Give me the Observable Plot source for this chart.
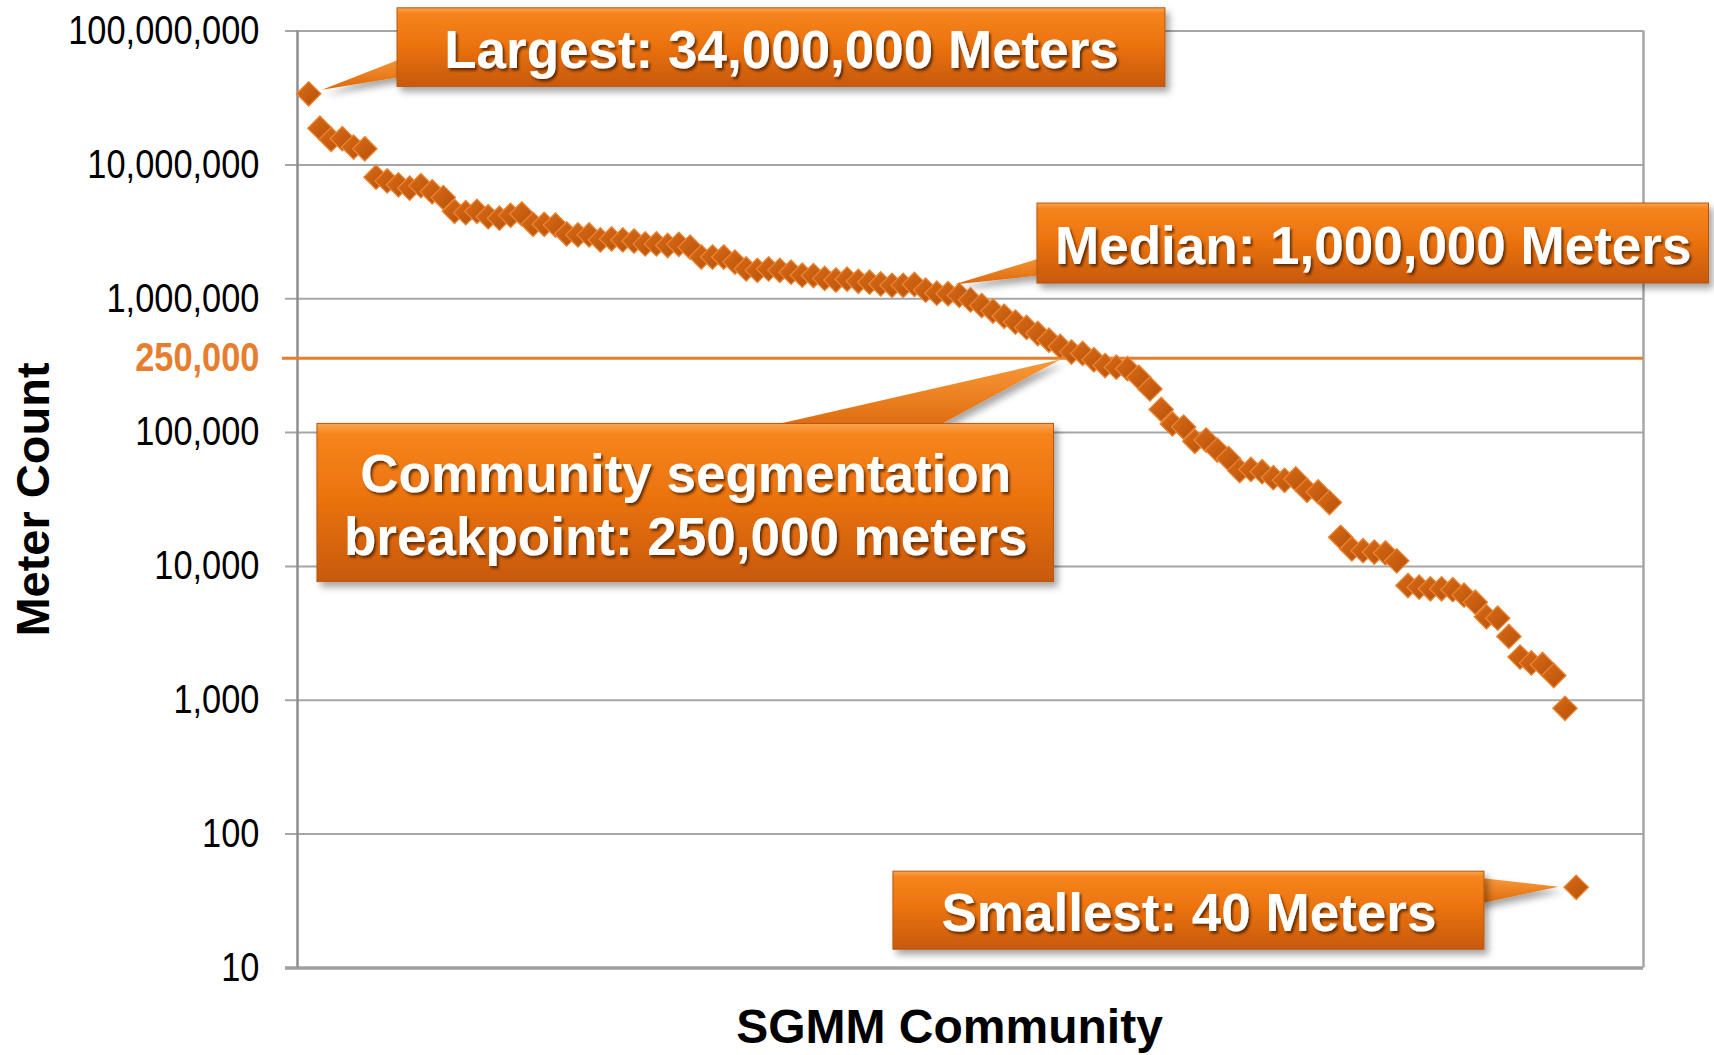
<!DOCTYPE html>
<html>
<head>
<meta charset="utf-8">
<script src="https://cdn.jsdelivr.net/npm/d3@7"></script>
<script src="https://cdn.jsdelivr.net/npm/@observablehq/plot@0.6"></script>
<style>
  html, body { margin: 0; padding: 0; background: #fff; }
  #chart svg { display: block; }
  #defs { position: absolute; width: 0; height: 0; }
</style>
</head>
<body>
<svg id="defs" aria-hidden="true">
  <defs>
    <linearGradient id="dotGrad" x1="0" y1="0" x2="1" y2="1">
      <stop offset="0" stop-color="#db6c14"/>
      <stop offset="1" stop-color="#b3500b"/>
    </linearGradient>
    <linearGradient id="boxGrad" x1="0" y1="0" x2="0" y2="1">
      <stop offset="0" stop-color="#fca552"/>
      <stop offset="0.07" stop-color="#f6841c"/>
      <stop offset="0.45" stop-color="#ec7410"/>
      <stop offset="1" stop-color="#c8590a"/>
    </linearGradient>
    <linearGradient id="wedgeGrad" x1="0" y1="0" x2="0" y2="1">
      <stop offset="0" stop-color="#f99a38"/>
      <stop offset="1" stop-color="#dd690d"/>
    </linearGradient>
    <filter id="boxShadow" x="-10%" y="-20%" width="130%" height="150%">
      <feDropShadow dx="4" dy="5" stdDeviation="3.5" flood-color="#000" flood-opacity="0.35"/>
    </filter>
    <filter id="textShadow" x="-5%" y="-20%" width="110%" height="150%">
      <feDropShadow dx="2" dy="2.5" stdDeviation="1.2" flood-color="#3d1a00" flood-opacity="0.75"/>
    </filter>
  </defs>
</svg>
<div id="chart"></div>
<script>
// ---- Data ----
// Meter count per SGMM community, ranked largest to smallest
const meterCounts = [
  34000000, 18800000, 15500000, 15700000, 13600000, 13200000, 8100000, 7600000, 7100000, 6700000,
  7000000, 6300000, 5700000, 4500000, 4400000, 4500000, 4100000, 4000000, 4200000, 4300000,
  3600000, 3600000, 3550000, 3050000, 3000000, 3000000, 2750000, 2800000, 2750000, 2700000,
  2570000, 2570000, 2500000, 2550000, 2430000, 2050000, 2050000, 2050000, 1880000, 1670000,
  1630000, 1670000, 1630000, 1580000, 1500000, 1490000, 1420000, 1380000, 1400000, 1350000,
  1330000, 1290000, 1260000, 1260000, 1280000, 1160000, 1100000, 1090000, 1060000, 980000,
  890000, 810000, 740000, 670000, 610000, 550000, 490000, 440000, 400000, 390000,
  350000, 317000, 308000, 300000, 259000, 212000, 149000, 116000, 110000, 86000,
  88000, 74000, 64000, 52000, 53000, 51000, 46000, 44000, 45000, 37000,
  36000, 30000, 16500, 13500, 13100, 12800, 12600, 11000, 7200, 7000,
  6800, 6800, 6700, 6100, 5400, 4200, 4100, 3000, 2100, 1900,
  1850, 1530, 870, 40
];
const communityRank = meterCounts.map((_, i) => i + 1);

// Axis ticks
const yTicks = [10, 100, 1000, 10000, 100000, 1000000, 10000000, 100000000];
const xDomain = [0, 120];
const yDomain = [10, 100000000];
const yTitle = "Meter Count";
const xTitle = "SGMM Community";

// Breakpoint line: labelled 250,000; drawn where it appears in the picture
const breakpointLabel = "250,000";
const breakpointDrawnAt = 360000;

// Callouts (box corners and pointer wedges in data units: rank, meters)
const calloutLabels = [
  "Largest: 34,000,000 Meters",
  "Median: 1,000,000 Meters",
  "Community segmentation\nbreakpoint: 250,000 meters",
  "Smallest: 40 Meters"
];
const calloutX1 = [8.92, 65.97, 1.78, 53.13];
const calloutX2 = [77.38, 125.84, 67.44, 105.82];
const calloutYTop = [1.48e8, 5.146e6, 116100, 52.36];
const calloutYBottom = [3.83e7, 1.299e6, 7632, 13.68];
const wedgeX = [[2.18, 10, 10], [58.51, 67.5, 67.5], [68.02, 40.3, 56.34], [112.42, 105.3, 105.3]];
const wedgeY = [[3.64e7, 6.58e7, 4.66e7], [1.277e6, 2.166e6, 1.535e6], [351300, 103500, 103500], [40.45, 47.2, 30.2]];

// ---- Tables built from the arrays ----
const points = meterCounts.map((v, i) => ({rank: communityRank[i], meters: v}));
const callouts = calloutLabels.map((label, i) => ({
  label,
  x1: calloutX1[i], x2: calloutX2[i],
  yTop: calloutYTop[i], yBottom: calloutYBottom[i],
  cx: (calloutX1[i] + calloutX2[i]) / 2,
  cy: Math.sqrt(calloutYTop[i] * calloutYBottom[i])
}));
const wedges = [];
wedgeX.forEach((xs, i) => xs.forEach((x, j) => wedges.push({id: i, x, y: wedgeY[i][j]})));

const fmt = d3.format(",");
const gridColor = "#a6a6a6";
const orange = "#e67e2e";

const chart = Plot.plot({
  width: 1714,
  height: 1055,
  marginLeft: 297,
  marginRight: 71,
  marginTop: 30.6,
  marginBottom: 87.6,
  style: {fontFamily: "'Liberation Sans', Arial, Helvetica, sans-serif", background: "#fff", color: "#000"},
  x: {domain: xDomain, axis: null},
  y: {type: "log", domain: yDomain, axis: null},
  marks: [
    Plot.ruleY(yTicks, {stroke: gridColor, strokeWidth: 2, insetLeft: -12}),
    Plot.ruleY([yDomain[0]], {stroke: "#a0a0a0", strokeWidth: 3.5, insetLeft: -12}),
    Plot.ruleX([xDomain[0]], {stroke: "#8e8e8e", strokeWidth: 2.5}),
    Plot.ruleX([xDomain[1]], {stroke: gridColor, strokeWidth: 2.5}),
    Plot.ruleY([breakpointDrawnAt], {stroke: orange, strokeWidth: 3, insetLeft: -15}),
    Plot.text(yTicks, {frameAnchor: "left", y: d => d, text: d => fmt(d), textAnchor: "end", dx: -38, fontSize: 40, fill: "#000", ariaDescription: "ytick"}),
    Plot.text([breakpointLabel], {frameAnchor: "left", y: () => breakpointDrawnAt, text: d => d, textAnchor: "end", dx: -38, fontSize: 40, fontWeight: "bold", fill: orange, ariaDescription: "ytick"}),
    Plot.text([yTitle], {frameAnchor: "left", dx: -264, rotate: -90, textAnchor: "middle", lineAnchor: "middle", fontSize: 47, fontWeight: "bold", fill: "#000"}),
    Plot.text([xTitle], {frameAnchor: "bottom", dx: -21, dy: 75, textAnchor: "middle", lineAnchor: "bottom", fontSize: 48, fontWeight: "bold", fill: "#000"}),
    Plot.dot(points, {x: "rank", y: "meters", symbol: "diamond2", r: 11, fill: "url(#dotGrad)", stroke: "#ea8434", strokeWidth: 1.3}),
    Plot.line(wedges, {x: "x", y: "y", z: "id", curve: "linear-closed", fill: "url(#wedgeGrad)", stroke: "none", ariaDescription: "wedge"}),
    Plot.rect(callouts, {x1: "x1", x2: "x2", y1: "yTop", y2: "yBottom", fill: "url(#boxGrad)", stroke: "#b9560f", strokeWidth: 1, ariaDescription: "box"}),
    Plot.text(callouts, {x: "cx", y: "cy", text: "label", fill: "#fff", fontSize: 53, fontWeight: "bold", lineHeight: 1.19, lineAnchor: "middle", ariaDescription: "boxtext"})
  ]
});

document.getElementById("chart").append(chart);

// Shadows
d3.select(chart).selectAll('g[aria-description="box"], g[aria-description="wedge"]').attr("filter", "url(#boxShadow)");
d3.select(chart).selectAll('g[aria-description="boxtext"]').attr("filter", "url(#textShadow)");

// Narrow the tick labels to match the condensed look
chart.querySelectorAll('g[aria-description="ytick"] text').forEach(t => {
  const b = t.getBBox();
  const R = b.x + b.width;
  const tr = t.getAttribute("transform") || "";
  t.setAttribute("transform", `${tr} translate(${R},0) scale(0.86,1) translate(${-R},0)`);
});
</script>
</body>
</html>
